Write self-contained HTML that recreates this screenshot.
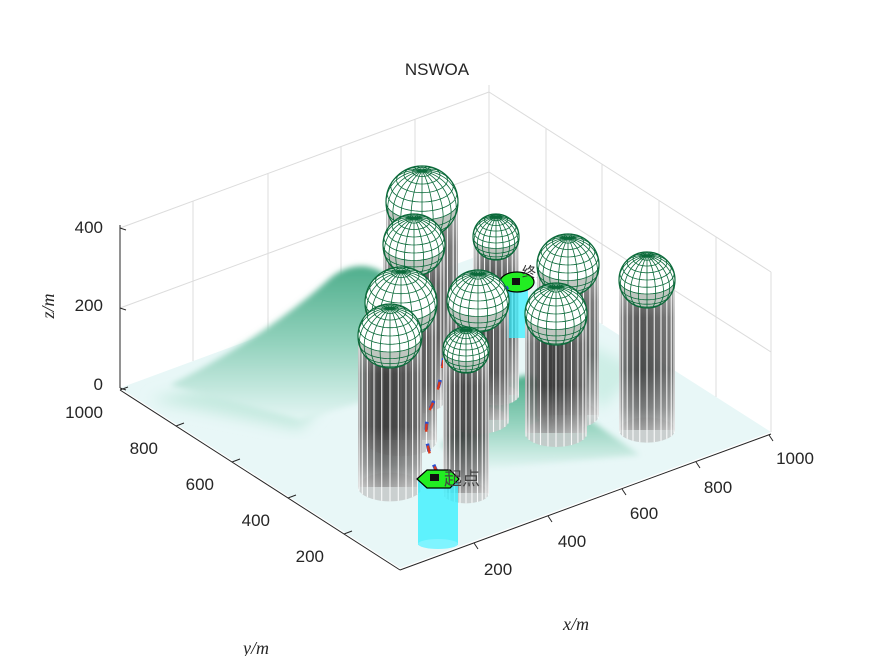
<!DOCTYPE html>
<html><head><meta charset="utf-8"><style>
html,body{margin:0;padding:0;background:#fff;}
svg{display:block;}
text{font-family:"Liberation Sans","Noto Sans CJK SC",sans-serif;}
</style></head><body>
<svg id="s" width="875" height="656" viewBox="0 0 875 656" xmlns="http://www.w3.org/2000/svg">
<defs>
<linearGradient id="cyl" x1="0" y1="0" x2="0" y2="1">
<stop offset="0" stop-color="#9a9a9a"/><stop offset="0.25" stop-color="#4a4a4a"/>
<stop offset="0.6" stop-color="#3c3c3c"/><stop offset="0.85" stop-color="#7a7a7a"/><stop offset="1" stop-color="#b8b8b8"/>
</linearGradient>
<linearGradient id="cylh" x1="0" y1="0" x2="1" y2="0">
<stop offset="0" stop-color="#fff" stop-opacity="0.25"/><stop offset="0.4" stop-color="#000" stop-opacity="0.15"/><stop offset="1" stop-color="#fff" stop-opacity="0.2"/>
</linearGradient>
<linearGradient id="hill" x1="0" y1="0" x2="0" y2="1">
<stop offset="0" stop-color="#4fae8c"/><stop offset="0.5" stop-color="#93d2bd"/><stop offset="1" stop-color="#e4f6f4"/>
</linearGradient>
<filter id="bl" x="-20%" y="-20%" width="140%" height="140%"><feGaussianBlur stdDeviation="3"/></filter>
<filter id="bl3" x="-20%" y="-20%" width="140%" height="140%"><feGaussianBlur stdDeviation="7"/></filter>
<clipPath id="floor"><polygon points="120,388 489,252 771,432 400,568"/></clipPath>
</defs>
<g stroke="#dcdcdc" stroke-width="1" fill="none">
<line x1="120" y1="228" x2="489" y2="92"/><line x1="120" y1="308" x2="489" y2="172"/>
<line x1="489" y1="92" x2="771" y2="272"/><line x1="489" y1="172" x2="771" y2="352"/>
<line x1="489" y1="85" x2="489" y2="252"/>
<line x1="193" y1="201" x2="193" y2="361"/><line x1="268" y1="173" x2="268" y2="333"/>
<line x1="341" y1="146" x2="341" y2="306"/><line x1="415" y1="119" x2="415" y2="279"/>
<line x1="546" y1="128" x2="546" y2="288"/><line x1="602" y1="164" x2="602" y2="324"/>
<line x1="659" y1="200" x2="659" y2="360"/><line x1="716" y1="237" x2="716" y2="397"/>
<line x1="771" y1="272" x2="771" y2="432"/>
</g>
<polygon points="120,388 489,252 771,432 400,568" fill="#e8f7f7"/>
<g clip-path="url(#floor)">
<path d="M150,400 C220,380 280,380 330,395 L300,430 Z" fill="#c6eae0" filter="url(#bl3)"/>
<path d="M440,445 C475,415 500,382 522,376 C540,372 560,392 590,420 L640,455 L470,470 Z" fill="url(#hill)" filter="url(#bl)"/>
<path d="M560,330 L640,370 L600,410 Z" fill="#cdeee6" filter="url(#bl3)"/>
</g>
<path d="M170,385 C240,350 295,310 328,280 C345,265 365,262 382,272 C398,285 412,305 430,335 L455,375 L300,420 Z" fill="url(#hill)" filter="url(#bl)"/>
<g id="objs"></g>
<g stroke="#262626" stroke-width="1" fill="none">
<line x1="120" y1="225" x2="120" y2="388"/>
<line x1="120" y1="228" x2="126" y2="230"/><line x1="120" y1="308" x2="126" y2="310"/><line x1="120" y1="388" x2="126" y2="390"/>
<line x1="120" y1="390" x2="400" y2="570"/>
<line x1="400" y1="570" x2="771" y2="434"/>
</g>
<g stroke="#262626" stroke-width="1">
<line x1="120" y1="390" x2="128" y2="387"/><line x1="176" y1="426" x2="184" y2="423"/><line x1="232" y1="462" x2="240" y2="459"/><line x1="288" y1="498" x2="296" y2="495"/><line x1="344" y1="534" x2="352" y2="531"/>
<line x1="474" y1="543" x2="478" y2="549"/><line x1="548" y1="516" x2="552" y2="522"/><line x1="622" y1="489" x2="626" y2="495"/><line x1="696" y1="462" x2="700" y2="468"/><line x1="769" y1="435" x2="773" y2="441"/>
</g>
<g fill="#262626" font-size="17">
<text x="437" y="75" text-anchor="middle">NSWOA</text>
<text x="103" y="233" text-anchor="end">400</text>
<text x="103" y="311" text-anchor="end">200</text>
<text x="103" y="390" text-anchor="end">0</text>
<text x="103" y="418" text-anchor="end">1000</text>
<text x="158" y="454" text-anchor="end">800</text>
<text x="214" y="490" text-anchor="end">600</text>
<text x="270" y="526" text-anchor="end">400</text>
<text x="324" y="562" text-anchor="end">200</text>
<text x="498" y="575" text-anchor="middle">200</text>
<text x="572" y="547" text-anchor="middle">400</text>
<text x="644" y="519" text-anchor="middle">600</text>
<text x="718" y="493" text-anchor="middle">800</text>
<text x="795" y="464" text-anchor="middle">1000</text>
</g>
<g fill="#262626" font-size="18" font-style="italic">
<text x="576" y="630" text-anchor="middle" style="font-family:'Liberation Serif',serif">x/m</text>
<text x="256" y="654" text-anchor="middle" style="font-family:'Liberation Serif',serif">y/m</text>
<text transform="translate(54,306) rotate(-90)" text-anchor="middle" style="font-family:'Liberation Serif',serif">z/m</text>
</g>
</svg>
<script>
(function(){
var NS="http://www.w3.org/2000/svg",g=document.getElementById("objs");
function el(t,a,p){var e=document.createElementNS(NS,t);for(var k in a)e.setAttribute(k,a[k]);(p||g).appendChild(e);return e;}
var E=30*Math.PI/180,se=Math.sin(E),ce=Math.cos(E);
function cylinder(cx,cy,r,b){
 el("ellipse",{cx:cx,cy:b,rx:r,ry:r*0.45,fill:"#c4c8c8","fill-opacity":0.85});
 el("rect",{x:cx-r,y:cy,width:2*r,height:b-cy,fill:"url(#cyl)","fill-opacity":0.85});
 el("rect",{x:cx-r,y:cy,width:2*r,height:b-cy,fill:"url(#cylh)"});
 for(var i=1;i<12;i++){var th=Math.PI*i/12;var x=cx-r*Math.cos(th);var yo=r*se*Math.sin(th);
  el("line",{x1:x,y1:cy+yo,x2:x,y2:b+r*0.45*Math.sin(th),stroke:"#fff","stroke-width":1.1,"stroke-opacity":0.9});}
}
function sphere(cx,cy,r){
 el("circle",{cx:cx,cy:cy,r:r,fill:"#fff"});
 el("path",{d:"M"+(cx-r)+","+cy+" A"+r+","+(r*se)+" 0 0 0 "+(cx+r)+","+cy+" A"+r+","+r+" 0 0 1 "+(cx-r)+","+cy+"Z",fill:"#a9b3ab","fill-opacity":0.75});
 var st="#0b6a3a";
 function P(lat,lon){var X=Math.cos(lat)*Math.cos(lon),D=Math.cos(lat)*Math.sin(lon),Z=Math.sin(lat);
  return {x:cx+r*X,y:cy-r*(Z*ce-D*se),v:D*ce+Z*se};}
 var d="";
 for(var la=-75;la<=75;la+=15){var lat=la*Math.PI/180,pen=false;
  for(var lo=0;lo<=360;lo+=6){var p=P(lat,lo*Math.PI/180);
   if(p.v>=0){d+=(pen?"L":"M")+p.x.toFixed(1)+","+p.y.toFixed(1);pen=true;}else pen=false;}}
 for(var lo=0;lo<360;lo+=18){var pen=false;
  for(var la=-90;la<=90;la+=6){var p=P(la*Math.PI/180,lo*Math.PI/180);
   if(p.v>=0){d+=(pen?"L":"M")+p.x.toFixed(1)+","+p.y.toFixed(1);pen=true;}else pen=false;}}
 el("path",{d:d,fill:"none",stroke:st,"stroke-width":0.8});
 el("circle",{cx:cx,cy:cy,r:r,fill:"none",stroke:st,"stroke-width":1.2});
}
function path(pd){
 el("path",{d:pd,fill:"none",stroke:"#2c4fd0","stroke-width":3.5,"stroke-dasharray":"8 14"});
 el("path",{d:pd,fill:"none",stroke:"#d83a1e","stroke-width":2.5,"stroke-dasharray":"8 14","stroke-dashoffset":"2"});
}
var L=[[422,202,36,380],[496,237,23,395],[414,245,31,400],["end"],["p1"],[568,265,31,415],[647,280,28,430],[478,301,31,420],[401,303,36,440],[556,314,31,433],["p2"],[390,336,32,487],[466,350,23,493]];
L.forEach(function(o){
 if(o[0]=="end"){
  el("rect",{x:506,y:283,width:22,height:55,fill:"#30f0ff","fill-opacity":0.7});
  el("ellipse",{cx:517,cy:282,rx:17,ry:10,fill:"#22ee22",stroke:"#000","stroke-width":1.2});
  el("rect",{x:512,y:278,width:8,height:7,fill:"#111"});
  el("text",{x:522,y:277,"font-size":"14",fill:"#333"}).textContent="终点";
  return;}
 if(o[0]=="p1"){path("M444,355 C448,335 470,305 517,283");return;}
 if(o[0]=="p2"){path("M437,472 C426,450 422,425 432,405 C440,388 442,370 444,355");return;}
 cylinder(o[0],o[1],o[2],o[3]);sphere(o[0],o[1],o[2]);
});
el("rect",{x:418,y:480,width:40,height:65,fill:"#30f0ff","fill-opacity":0.75});
el("ellipse",{cx:438,cy:544,rx:20,ry:5,fill:"#7ff4ff"});
el("polygon",{points:"417,479 427,470 450,470 459,479 450,488 427,488",fill:"#22ee22",stroke:"#000","stroke-width":1.2});
el("rect",{x:430,y:474,width:9,height:7,fill:"#111"});
var t=el("text",{x:444,y:485,"font-size":"18",fill:"#444"});t.setAttribute("style","font-family:'Noto Sans CJK SC','WenQuanYi Zen Hei',sans-serif");t.textContent="起点";
})();
</script>
</body></html>
